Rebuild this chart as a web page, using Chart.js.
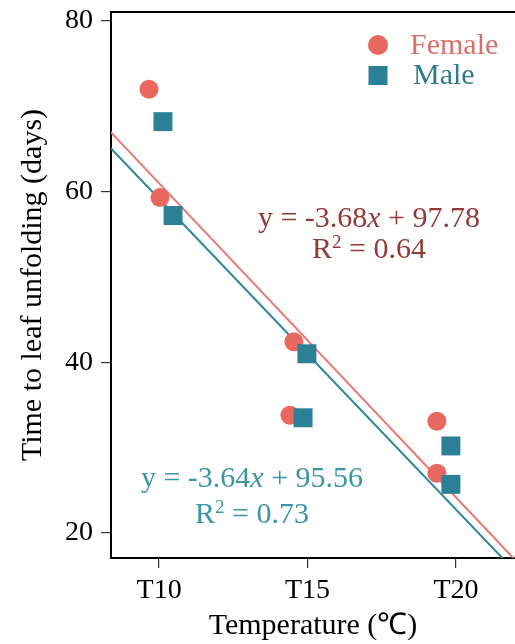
<!DOCTYPE html>
<html>
<head>
<meta charset="utf-8">
<title>Time to leaf unfolding</title>
<script src="https://cdn.jsdelivr.net/npm/chart.js"></script>
<style>
  html, body { margin: 0; padding: 0; background: #fff; overflow: hidden; }
  canvas { display: block; }
</style>
</head>
<body>
<canvas id="leafChart" width="515" height="644"></canvas>
<script>
// temperature treatments, x in degrees (points are spread a little round each one)
var tickTemps = [10, 15, 20];
var tickLabels = ['T10', 'T15', 'T20'];
var yTicks = [20, 40, 60, 80];

var femaleX = [9.66, 10.03, 14.54, 14.41, 19.36, 19.36];
var femaleY = [72.0, 59.3, 42.4, 33.8, 33.1, 27.0];
var maleX = [10.13, 10.47, 14.98, 14.85, 19.83, 19.83];
var maleY = [68.2, 57.2, 41.0, 33.5, 30.2, 25.7];

// ends of the fitted lines
var fitX = [8, 22];
var femaleFitY = [68.34, 16.82];
var maleFitY = [66.44, 15.48];

var femaleEq = ['y = -3.68', 'x', ' + 97.78', ' = 0.64'];
var maleEq = ['y = -3.64', 'x', ' + 95.56', ' = 0.73'];

var serif = "'Liberation Serif', 'Times New Roman', serif";

function pts(xs, ys) {
    return xs.map(function(x, i) { return {x: x, y: ys[i]}; });
}

// draws a line of mixed text centred on cx
function drawRich(ctx, parts, cx, base) {
    var w = 0;
    parts.forEach(function(p) { ctx.font = p.font; w += ctx.measureText(p.t).width; });
    var x = cx - w / 2;
    parts.forEach(function(p) {
        ctx.font = p.font;
        ctx.fillText(p.t, x, base - (p.dy || 0));
        x += ctx.measureText(p.t).width;
    });
}

function drawEquation(chart, eq, color, vx, vy1, vy2) {
    var ctx = chart.ctx;
    var xs = chart.scales.x, ys = chart.scales.y;
    var cx = xs.getPixelForValue(vx);
    ctx.fillStyle = color;
    ctx.textAlign = 'left';
    ctx.textBaseline = 'alphabetic';
    drawRich(ctx, [
        {t: eq[0], font: '30px ' + serif},
        {t: eq[1], font: 'italic 30px ' + serif},
        {t: eq[2], font: '30px ' + serif}
    ], cx, ys.getPixelForValue(vy1));
    drawRich(ctx, [
        {t: 'R', font: '30px ' + serif},
        {t: '2', font: '19px ' + serif, dy: 10},
        {t: eq[3], font: '30px ' + serif}
    ], cx, ys.getPixelForValue(vy2));
}

var extras = {
    id: 'extras',
    afterDraw: function(chart) {
        var ctx = chart.ctx, a = chart.chartArea;
        ctx.save();
        // top frame line
        ctx.strokeStyle = '#000';
        ctx.lineWidth = 2;
        ctx.beginPath();
        ctx.moveTo(a.left - 1, a.top);
        ctx.lineTo(a.right, a.top);
        ctx.stroke();

        // legend
        var lx = a.right - 137;
        ctx.fillStyle = '#E8675E';
        ctx.beginPath();
        ctx.arc(lx, a.top + 33, 10, 0, Math.PI * 2);
        ctx.fill();
        ctx.fillStyle = '#2A8097';
        ctx.fillRect(lx - 9.5, a.top + 54, 19, 19);
        ctx.font = '30px ' + serif;
        ctx.textBaseline = 'alphabetic';
        ctx.textAlign = 'left';
        ctx.fillStyle = '#D8716A';
        ctx.fillText('Female', lx + 32, a.top + 42);
        ctx.fillStyle = '#2C7C8C';
        ctx.fillText('Male', lx + 35, a.top + 72);

        drawEquation(chart, femaleEq, '#923A35', 17.07, 55.86, 52.23);
        drawEquation(chart, maleEq, '#3A96A5', 13.13, 25.39, 21.17);
        ctx.restore();
    }
};

new Chart(document.getElementById('leafChart'), {
    type: 'scatter',
    data: {
        datasets: [{
            label: 'Female fit',
            data: pts(fitX, femaleFitY),
            showLine: true,
            borderColor: '#E8776F',
            borderWidth: 2,
            pointRadius: 0,
            order: 3
        }, {
            label: 'Male fit',
            data: pts(fitX, maleFitY),
            showLine: true,
            borderColor: '#2E8799',
            borderWidth: 2,
            pointRadius: 0,
            order: 3
        }, {
            label: 'Female',
            data: pts(femaleX, femaleY),
            pointStyle: 'circle',
            pointRadius: 9.5,
            backgroundColor: '#E8675E',
            borderWidth: 0,
            order: 1
        }, {
            label: 'Male',
            data: pts(maleX, maleY),
            pointStyle: 'rect',
            pointRadius: 13.4,
            backgroundColor: '#2A8097',
            borderWidth: 0,
            order: 0
        }]
    },
    options: {
        responsive: false,
        animation: false,
        devicePixelRatio: 1,
        layout: { autoPadding: false, padding: { top: 12, right: 0, left: 0, bottom: 0 } },
        plugins: {
            legend: { display: false },
            tooltip: { enabled: false }
        },
        scales: {
            x: {
                type: 'linear',
                min: 8.38,
                max: 21.99,
                afterBuildTicks: function(s) {
                    s.ticks = tickTemps.map(function(v) { return {value: v}; });
                },
                afterFit: function(s) {
                    s.height = 86;
                    s.paddingLeft = 0;
                    s.paddingRight = 0;
                },
                ticks: {
                    callback: function(v) { return tickLabels[tickTemps.indexOf(v)]; },
                    font: { family: serif, size: 28 },
                    color: '#000',
                    padding: 6,
                    maxRotation: 0
                },
                grid: { drawOnChartArea: false, drawTicks: true, tickLength: 10, color: '#333', lineWidth: 1.2 },
                border: { color: '#000', width: 2 },
                title: {
                    display: true,
                    text: 'Temperature (℃)',
                    font: { family: serif, size: 30 },
                    color: '#000',
                    padding: { top: 0, bottom: 0 }
                }
            },
            y: {
                min: 17.07,
                max: 81.05,
                afterBuildTicks: function(s) {
                    s.ticks = yTicks.map(function(v) { return {value: v}; });
                },
                afterFit: function(s) {
                    s.width = 111;
                    s.paddingTop = 0;
                    s.paddingBottom = 0;
                },
                ticks: {
                    font: { family: serif, size: 28 },
                    color: '#000',
                    padding: 8
                },
                grid: { drawOnChartArea: false, drawTicks: true, tickLength: 10, color: '#333', lineWidth: 1.2 },
                border: { color: '#000', width: 2 },
                title: {
                    display: true,
                    text: 'Time to leaf unfolding (days)',
                    font: { family: serif, size: 30 },
                    color: '#000',
                    padding: { top: 15, bottom: 0 }
                }
            }
        }
    },
    plugins: [extras]
});
</script>
</body>
</html>
